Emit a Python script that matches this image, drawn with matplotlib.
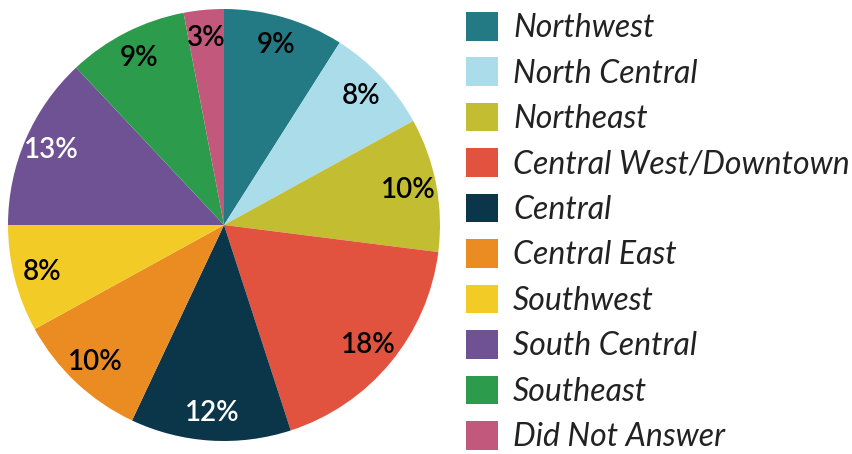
import matplotlib
matplotlib.use("Agg")
import matplotlib.pyplot as plt
from matplotlib.patches import Patch

categories = ["Northwest", "North Central", "Northeast", "Central West/Downtown",
              "Central", "Central East", "Southwest", "South Central",
              "Southeast", "Did Not Answer"]
values = [9, 8, 10, 18, 12, 10, 8, 13, 9, 3]
colors = ["#237A84", "#AADCEA", "#C3BD32", "#E2533F", "#0B364A",
          "#EB8C23", "#F3CB26", "#6F5294", "#2C9C4C", "#C2587B"]
label_colors = ["black", "black", "black", "black", "white",
                "black", "black", "white", "black", "black"]

W, H = 852, 454
fig = plt.figure(figsize=(W / 100, H / 100), dpi=100)
cx, cy, r = 224, 225, 216
ax = fig.add_axes([(cx - r) / W, (H - cy - r) / H, 2 * r / W, 2 * r / H])

wedges, texts, autotexts = ax.pie(
    values, colors=colors, startangle=90, counterclock=False,
    autopct=lambda p: f"{p:.0f}%", pctdistance=0.87,
    wedgeprops=dict(linewidth=0),
    textprops=dict(fontsize=20, family="Lato", fontweight="semibold"))
for t, c in zip(autotexts, label_colors):
    t.set_color(c)
ax.set_aspect("equal")
ax.set_xlim(-1, 1)
ax.set_ylim(-1, 1)
ax.axis("off")

handles = [Patch(facecolor=c, edgecolor="none") for c in colors]
leg = fig.legend(handles, categories, loc="upper left",
                 bbox_to_anchor=(466 / W, 1 - 12 / H),
                 frameon=False, handlelength=1.0, handleheight=1.0,
                 handletextpad=0.48, labelspacing=0.445, borderpad=0, borderaxespad=0,
                 prop=dict(family="Lato", style="italic", size=23))
for t in leg.get_texts():
    t.set_color("#222222")

fig.savefig("out.png", dpi=100)
